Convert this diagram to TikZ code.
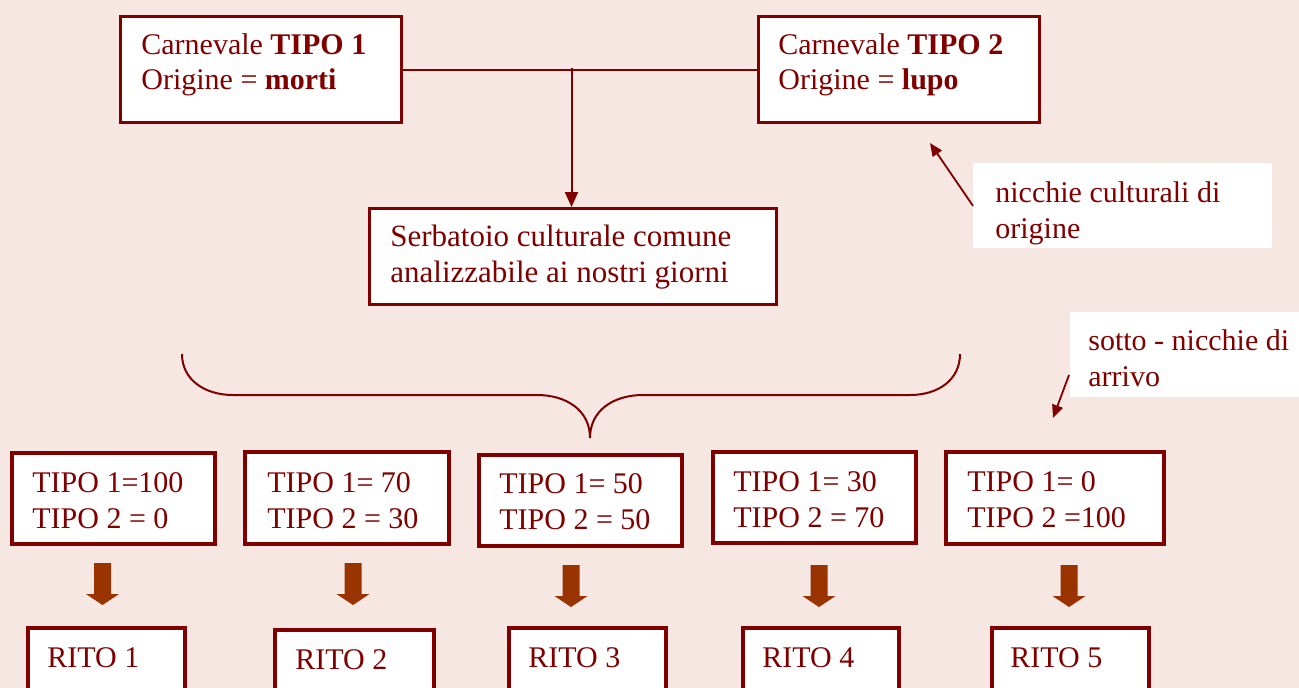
\documentclass[tikz,border=0pt]{standalone}
\usepackage{fontspec}
\setmainfont{Liberation Serif}
\usetikzlibrary{arrows.meta}

\definecolor{darkred}{RGB}{128,0,0}
\definecolor{rust}{RGB}{153,51,0}
\definecolor{paper}{RGB}{246,231,227}

\tikzset{every picture/.style={line width=0.75pt}}
\tikzset{
  box/.style={draw=darkred, line width=3pt, fill=white, anchor=north west, inner sep=0pt},
  label/.style={text=darkred, anchor=base west, inner sep=0pt, align=left, font=\fontsize{30}{36}\selectfont},
  note/.style={fill=white, anchor=north west, inner sep=0pt},
  link/.style={draw=darkred, line width=2pt},
  pointer/.style={draw=darkred, line width=1.8pt, -{Triangle[length=13pt,width=11pt]}},
  blockarrow/.style={fill=rust}
}

\begin{document}
\begin{tikzpicture}[x=1pt,y=1pt,yscale=-1,xscale=1]
\useasboundingbox (0,0) rectangle (1299,688);
\fill[paper] (0,0) rectangle (1299,688);

%Shape: Rectangle [tipoA]
\node[box, minimum width=281, minimum height=106] (tipoA) at (119,15) {};
%Shape: Rectangle [tipoB]
\node[box, minimum width=281, minimum height=106] (tipoB) at (757,15) {};
%Shape: Rectangle [serbatoio]
\node[box, minimum width=407, minimum height=96] (serbatoio) at (368,207) {};

% Text Node (base = last line)
\node[label, font=\fontsize{30}{35}\selectfont] (tipoAtxt) at (141,89) {Carnevale \textbf{TIPO 1}\\Origine = \textbf{morti}};
% Text Node
\node[label, font=\fontsize{30}{35}\selectfont] (tipoBtxt) at (778,89) {Carnevale \textbf{TIPO 2}\\Origine = \textbf{lupo}};
% Text Node
\node[label, font=\fontsize{31}{36}\selectfont] (serbatoiotxt) at (390,282) {Serbatoio culturale comune\\analizzabile ai nostri giorni};

%Straight Lines
\draw[link] (tipoA.east) -- (tipoB.west);
\coordinate (join) at (571.5,68);
\draw[link, -{Triangle[length=15pt,width=13pt]}] (join) -- (join |- serbatoio.north);

%Notes
\node[note, minimum width=299, minimum height=85] (nicchieBg) at (973,163) {};
\node[label] (nicchie) at (995,238) {nicchie culturali di\\origine};
\coordinate (nicchieTip) at (930,143);
\draw[pointer] (nicchieBg.west) -- (nicchieTip);

\node[note, minimum width=229, minimum height=85] (sottoBg) at (1070,312) {};
\node[label] (sotto) at (1088,386) {sotto - nicchie di\\arrivo};
\coordinate (sottoFrom) at (1069,375);
\coordinate (sottoTip) at (1053,418);
\draw[pointer] (sottoFrom) -- (sottoTip);

%Curve Lines [brace]
\coordinate (braceL) at (182,354);
\coordinate (braceTip) at (590,438);
\coordinate (braceR) at (960,354);
\draw[link] (braceL) .. controls (182,380) and (205,395) .. (233,395) -- (537,395)
  .. controls (566,395) and (590,410) .. (braceTip)
  .. controls (590,410) and (614,395) .. (643,395) -- (910,395)
  .. controls (938,395) and (960,380) .. (braceR);

%Shape: Rectangle [row of mixtures]
\node[box, line width=3.5pt, minimum width=203, minimum height=91] (mixA) at (10,451) {};
\node[box, line width=3.5pt, minimum width=204, minimum height=92] (mixB) at (243,450) {};
\node[box, line width=3.5pt, minimum width=203, minimum height=91] (mixC) at (477,453) {};
\node[box, line width=3.5pt, minimum width=203, minimum height=91] (mixD) at (711,450) {};
\node[box, line width=3.5pt, minimum width=218, minimum height=92] (mixE) at (944,450) {};

% Text Node
\node[label] (mixAtxt) at (32,528) {TIPO 1=100\\TIPO 2 = 0};
\node[label] (mixBtxt) at (267,528) {TIPO 1= 70\\TIPO 2 = 30};
\node[label] (mixCtxt) at (499,529) {TIPO 1= 50\\TIPO 2 = 50};
\node[label] (mixDtxt) at (733,527) {TIPO 1= 30\\TIPO 2 = 70};
\node[label] (mixEtxt) at (967,527) {TIPO 1= 0\\TIPO 2 =100};

%Shape: Down Arrow
\fill[blockarrow] (94,563) -- (111,563) -- (111,594) -- (119,594) -- (102.5,605) -- (86,594) -- (94,594) -- cycle;
\fill[blockarrow] (344.5,563) -- (361.5,563) -- (361.5,594) -- (369.5,594) -- (353,605) -- (336.5,594) -- (344.5,594) -- cycle;
\fill[blockarrow] (562.5,565) -- (579.5,565) -- (579.5,596) -- (587.5,596) -- (571,607) -- (554.5,596) -- (562.5,596) -- cycle;
\fill[blockarrow] (810.5,565) -- (827.5,565) -- (827.5,596) -- (835.5,596) -- (819,607) -- (802.5,596) -- (810.5,596) -- cycle;
\fill[blockarrow] (1060.5,565) -- (1077.5,565) -- (1077.5,596) -- (1085.5,596) -- (1069,607) -- (1052.5,596) -- (1060.5,596) -- cycle;

%Shape: Rectangle [rites]
\node[box, line width=3.5pt, minimum width=157, minimum height=90] (ritoA) at (26,626) {};
\node[box, line width=3.5pt, minimum width=159, minimum height=90] (ritoB) at (273,628) {};
\node[box, line width=3.5pt, minimum width=157, minimum height=90] (ritoC) at (507,626) {};
\node[box, line width=3.5pt, minimum width=156, minimum height=90] (ritoD) at (741,626) {};
\node[box, line width=3.5pt, minimum width=157, minimum height=90] (ritoE) at (990,626) {};

% Text Node
\node[label] (ritoAtxt) at (47,667) {RITO 1};
\node[label] (ritoBtxt) at (295,669) {RITO 2};
\node[label] (ritoCtxt) at (528,667) {RITO 3};
\node[label] (ritoDtxt) at (762,667) {RITO 4};
\node[label] (ritoEtxt) at (1010,667) {RITO 5};

\end{tikzpicture}
\end{document}
